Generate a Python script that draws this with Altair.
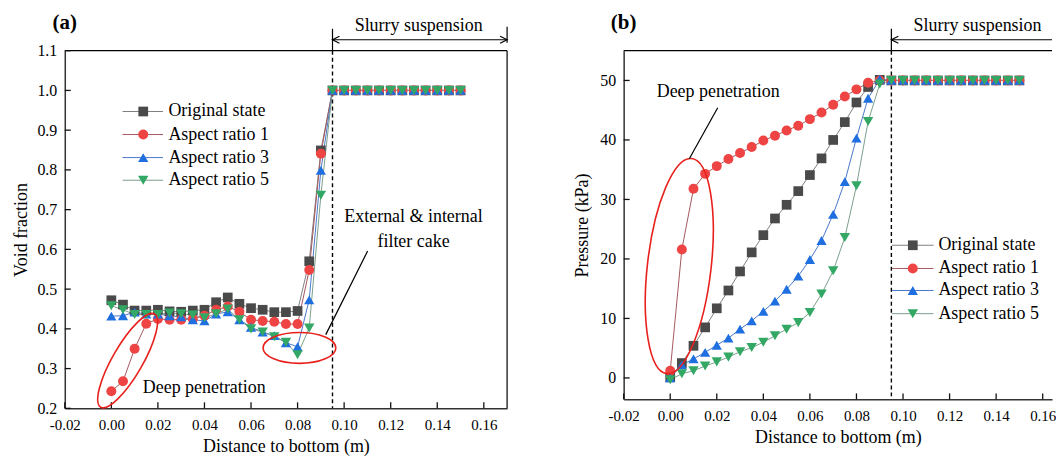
import altair as alt
import pandas as pd

FONT = "Liberation Serif"

SERIES = ["Original state", "Aspect ratio 1", "Aspect ratio 3", "Aspect ratio 5"]
LINE_COLORS = ["#808080", "#a4585e", "#4a78c8", "#7aa08c"]
MARK_COLORS = ["#4a4a4a", "#ee4444", "#1f6fe0", "#33a865"]
SHAPES = ["square", "circle", "triangle-up", "triangle-down"]
SIZES = [95, 110, 140, 140]

DIST = [0.000, 0.005, 0.010, 0.015, 0.020, 0.025, 0.030, 0.035, 0.040, 0.045,
        0.050, 0.055, 0.060, 0.065, 0.070, 0.075, 0.080, 0.085, 0.090, 0.095,
        0.100, 0.105, 0.110, 0.115, 0.120, 0.125, 0.130, 0.135, 0.140, 0.145, 0.150]

# (a) Void fraction
VOID_ORIG = [0.472, 0.461, 0.446, 0.446, 0.448, 0.444, 0.443, 0.446, 0.448, 0.467,
             0.479, 0.463, 0.452, 0.448, 0.442, 0.442, 0.445, 0.570, 0.849, 1.0,
             1.0, 1.0, 1.0, 1.0, 1.0, 1.0, 1.0, 1.0, 1.0, 1.0, 1.0]
VOID_AR1 = [0.243, 0.268, 0.350, 0.413, 0.425, 0.423, 0.423, 0.425, 0.433, 0.448,
            0.456, 0.443, 0.423, 0.420, 0.418, 0.412, 0.412, 0.548, 0.841, 1.0,
            1.0, 1.0, 1.0, 1.0, 1.0, 1.0, 1.0, 1.0, 1.0, 1.0, 1.0]
VOID_AR3 = [0.432, 0.433, 0.442, 0.437, 0.437, 0.433, 0.430, 0.423, 0.420, 0.437,
            0.443, 0.423, 0.404, 0.392, 0.383, 0.365, 0.355, 0.473, 0.799, 1.0,
            1.0, 1.0, 1.0, 1.0, 1.0, 1.0, 1.0, 1.0, 1.0, 1.0, 1.0]
VOID_AR5 = [0.458, 0.448, 0.436, 0.436, 0.436, 0.440, 0.438, 0.435, 0.428, 0.438,
            0.450, 0.423, 0.400, 0.392, 0.380, 0.366, 0.335, 0.402, 0.736, 1.0,
            1.0, 1.0, 1.0, 1.0, 1.0, 1.0, 1.0, 1.0, 1.0, 1.0, 1.0]

# (b) Pressure (kPa)
P_ORIG = [0.1, 2.5, 5.4, 8.5, 11.7, 14.7, 17.9, 21.1, 24.0, 26.8,
          29.1, 31.4, 34.1, 36.9, 40.0, 43.0, 46.3, 48.9, 50.1, 50.0,
          50.0, 50.0, 50.0, 50.0, 50.0, 50.0, 50.0, 50.0, 50.0, 50.0, 50.0]
P_AR1 = [1.2, 21.6, 31.8, 34.3, 35.6, 36.8, 37.8, 38.8, 39.9, 40.7,
         41.6, 42.4, 43.5, 44.6, 45.9, 47.3, 48.5, 49.6, 50.0, 50.0,
         50.0, 50.0, 50.0, 50.0, 50.0, 50.0, 50.0, 50.0, 50.0, 50.0, 50.0]
P_AR3 = [0.0, 2.2, 3.2, 4.3, 5.5, 6.7, 8.2, 9.6, 11.2, 12.9,
         14.9, 17.1, 19.9, 23.1, 27.5, 33.0, 40.3, 47.0, 50.2, 50.0,
         50.0, 50.0, 50.0, 50.0, 50.0, 50.0, 50.0, 50.0, 50.0, 50.0, 50.0]
P_AR5 = [-0.3, 0.7, 1.2, 2.0, 2.7, 3.5, 4.4, 5.1, 6.0, 7.1,
         8.2, 9.3, 11.0, 14.1, 18.0, 23.6, 32.3, 43.1, 49.4, 50.0,
         50.0, 50.0, 50.0, 50.0, 50.0, 50.0, 50.0, 50.0, 50.0, 50.0, 50.0]

X_TICKS = [-0.02, 0.00, 0.02, 0.04, 0.06, 0.08, 0.10, 0.12, 0.14, 0.16]
VOID_TICKS = [0.2, 0.3, 0.4, 0.5, 0.6, 0.7, 0.8, 0.9, 1.0, 1.1]
P_TICKS = [0, 10, 20, 30, 40, 50]

X_TITLE = "Distance to bottom (m)"
Y_TITLE_A = "Void fraction"
Y_TITLE_B = "Pressure (kPa)"
SLURRY = "Slurry suspension"
DEEP = "Deep penetration"
CAKE_1 = "External & internal"
CAKE_2 = "filter cake"

# legend anchor rows (data units of each panel)
LEG_A = {"x0": 0.0048, "x1": 0.0222, "xm": 0.0137, "xt": 0.0245, "y": [0.947, 0.889, 0.831, 0.774]}
LEG_B = {"x0": 0.0952, "x1": 0.1131, "xm": 0.1042, "xt": 0.1152, "y": [22.3, 18.4, 14.7, 10.8]}

ONE = pd.DataFrame({"k": [0]})

stroke_scale = alt.Scale(domain=SERIES, range=LINE_COLORS)
color_scale = alt.Scale(domain=SERIES, range=MARK_COLORS)
shape_scale = alt.Scale(domain=SERIES, range=SHAPES)
size_scale = alt.Scale(domain=SERIES, range=SIZES)

XLABEL = "datum.value < 0 ? '-' + format(-datum.value, '.2f') : format(datum.value, '.2f')"
TICK_PX = 6


def long_df(values):
    rows = []
    for s, vals in zip(SERIES, values):
        for x, v in zip(DIST, vals):
            rows.append({"series": s, "x": x, "y": v})
    return pd.DataFrame(rows)


def ellipse_path(ratio):
    k = 0.5523
    b = ratio
    return (f"M1,0 C1,{k*b:.4f} {k:.4f},{b:.4f} 0,{b:.4f} "
            f"C{-k:.4f},{b:.4f} -1,{k*b:.4f} -1,0 "
            f"C-1,{-k*b:.4f} {-k:.4f},{-b:.4f} 0,{-b:.4f} "
            f"C{k:.4f},{-b:.4f} 1,{-k*b:.4f} 1,0 Z")


ARROW_L = "M1,-0.5 L0,0 L1,0.5"
ARROW_R = "M-1,-0.5 L0,0 L-1,0.5"


def panel(values, xdom, ydom, W, H, yticks, ytc, yfmt, ytitle, ytp, leg, letter,
          ellipses, texts, connectors, right_frame, arrow_right_end):
    xs = alt.Scale(domain=xdom, nice=False, zero=False)
    ys = alt.Scale(domain=ydom, nice=False, zero=False)
    xaxis = alt.Axis(tickCount=10, title=X_TITLE, labelExpr=XLABEL, labelOverlap=False)
    yaxis = alt.Axis(tickCount=ytc, title=ytitle, format=yfmt, titlePadding=ytp,
                     labelOverlap=False, labelFontSize=16)
    dx = (xdom[1] - xdom[0]) * TICK_PX / W
    dy = (ydom[1] - ydom[0]) * TICK_PX / H

    def X(f):
        return alt.X(f, type="quantitative", scale=xs, axis=xaxis)

    def Y(f):
        return alt.Y(f, type="quantitative", scale=ys, axis=yaxis)

    df = long_df(values)
    layers = []
    layers.append(alt.Chart(df).mark_line(strokeWidth=1).encode(
        x=X("x"), y=Y("y"),
        stroke=alt.Stroke("series:N", scale=stroke_scale, legend=None),
        detail="series:N"))
    # frame
    layers.append(alt.Chart(ONE).mark_rule(color="black", strokeWidth=1.2).encode(
        x=alt.value(0), x2=alt.value(W), y=alt.value(0)))
    if right_frame:
        layers.append(alt.Chart(ONE).mark_rule(color="black", strokeWidth=1.2).encode(
            x=alt.value(W), y=alt.value(0), y2=alt.value(H)))
    # dashed boundary
    layers.append(alt.Chart(ONE).mark_rule(color="black", strokeWidth=1.4, strokeDash=[4, 3]).encode(
        x=alt.datum(0.095), y=alt.value(0), y2=alt.value(H)))
    layers.append(alt.Chart(ONE).mark_rule(color="black", strokeWidth=1.2).encode(
        x=alt.datum(0.095), y=alt.value(-22), y2=alt.value(0)))
    # slurry arrow
    ay = -11
    if arrow_right_end:
        layers.append(alt.Chart(ONE).mark_rule(color="black", strokeWidth=1.2).encode(
            x=alt.datum(0.095), x2=alt.datum(xdom[1]), y=alt.value(ay)))
        layers.append(alt.Chart(ONE).mark_rule(color="black", strokeWidth=1.2).encode(
            x=alt.datum(xdom[1]), y=alt.value(-24), y2=alt.value(-8)))
        layers.append(alt.Chart(ONE).mark_point(shape=ARROW_R, size=196, filled=False, stroke="black",
                                                strokeWidth=1.2, opacity=1).encode(
            x=alt.datum(xdom[1]), y=alt.value(ay)))
    else:
        layers.append(alt.Chart(ONE).mark_rule(color="black", strokeWidth=1.2).encode(
            x=alt.datum(0.095), x2=alt.value(W), y=alt.value(ay)))
    layers.append(alt.Chart(ONE).mark_point(shape=ARROW_L, size=196, filled=False, stroke="black",
                                            strokeWidth=1.2, opacity=1).encode(
        x=alt.datum(0.095), y=alt.value(ay)))
    layers.append(alt.Chart(ONE).mark_text(text=SLURRY, font=FONT, fontSize=18, color="black",
                                           baseline="middle").encode(
        x=alt.datum(0.132), y=alt.value(-25)))
    layers.append(alt.Chart(ONE).mark_text(text=letter, font=FONT, fontSize=21, fontWeight="bold",
                                           color="black", baseline="middle").encode(
        x=alt.value(0), y=alt.value(-28)))
    # inward ticks (drawn in data space, TICK_PX long)
    layers.append(alt.Chart(pd.DataFrame({"xt": X_TICKS})).mark_rule(
        color="#111111", strokeWidth=1.3).encode(
        x=X("xt"), y=alt.datum(ydom[0]), y2=alt.datum(ydom[0] + dy)))
    layers.append(alt.Chart(pd.DataFrame({"yt": yticks})).mark_rule(
        color="#111111", strokeWidth=1.3).encode(
        y=Y("yt"), x=alt.datum(xdom[0]), x2=alt.datum(xdom[0] + dx)))
    # data points
    layers.append(alt.Chart(df).mark_point(filled=True, opacity=1, strokeWidth=0.5).encode(
        x=X("x"), y=Y("y"),
        color=alt.Color("series:N", scale=color_scale, legend=None),
        shape=alt.Shape("series:N", scale=shape_scale, legend=None),
        size=alt.Size("series:N", scale=size_scale, legend=None)))
    # legend
    ldf = pd.DataFrame({"series": SERIES, "ly": leg["y"]})
    layers.append(alt.Chart(ldf).mark_rule(strokeWidth=1).encode(
        x=alt.datum(leg["x0"]), x2=alt.datum(leg["x1"]), y=Y("ly"),
        stroke=alt.Stroke("series:N", scale=stroke_scale, legend=None)))
    layers.append(alt.Chart(ldf).mark_point(filled=True, opacity=1, strokeWidth=0.5).encode(
        x=alt.datum(leg["xm"]), y=Y("ly"),
        color=alt.Color("series:N", scale=color_scale, legend=None),
        shape=alt.Shape("series:N", scale=shape_scale, legend=None),
        size=alt.Size("series:N", scale=size_scale, legend=None)))
    layers.append(alt.Chart(ldf).mark_text(font=FONT, fontSize=18, color="black", align="left",
                                           baseline="middle").encode(
        x=alt.datum(leg["xt"]), y=Y("ly"), text="series:N"))
    # annotations
    for (cx, cy, semi, ratio, ang) in ellipses:
        layers.append(alt.Chart(ONE).mark_point(shape=ellipse_path(ratio), size=(2 * semi) ** 2,
                                                angle=ang, filled=False, stroke="#e8201c",
                                                strokeWidth=1.6, opacity=1).encode(
            x=alt.datum(cx), y=alt.datum(cy)))
    for (x1, y1, x2, y2) in connectors:
        layers.append(alt.Chart(ONE).mark_rule(color="black", strokeWidth=1.2).encode(
            x=alt.datum(x1), y=alt.datum(y1), x2=alt.datum(x2), y2=alt.datum(y2)))
    for (t, tx, ty) in texts:
        layers.append(alt.Chart(ONE).mark_text(text=t, font=FONT, fontSize=18, color="black",
                                               baseline="middle").encode(
            x=alt.datum(tx), y=alt.datum(ty)))
    return alt.layer(*layers).properties(width=W, height=H)


left = panel(
    [VOID_ORIG, VOID_AR1, VOID_AR3, VOID_AR5], [-0.02, 0.17], [0.2, 1.1], 444, 359,
    VOID_TICKS, 10, ".1f", Y_TITLE_A, 6, LEG_A, "(a)",
    ellipses=[(0.0070, 0.320, 54, 0.28, 120), (0.0808, 0.352, 36.5, 0.425, 0)],
    texts=[(DEEP, 0.0399, 0.250), (CAKE_1, 0.1298, 0.681), (CAKE_2, 0.1298, 0.619)],
    connectors=[(0.0921, 0.3855, 0.1101, 0.596)],
    right_frame=True, arrow_right_end=True)

right = panel(
    [P_ORIG, P_AR1, P_AR3, P_AR5], [-0.02, 0.164], [-3.6, 55], 430, 350,
    P_TICKS, 6, "d", Y_TITLE_B, 8, LEG_B, "(b)",
    ellipses=[(0.0039, 18.8, 108.7, 0.294, 96.6)],
    texts=[(DEEP, 0.0206, 48.0)],
    connectors=[(0.0204, 45.4, 0.0082, 36.85)],
    right_frame=False, arrow_right_end=False)

chart = alt.hconcat(left, right, spacing=64).properties(
    padding={"left": 5, "top": 3, "right": 0, "bottom": 0}
).configure_axis(
    labelFont=FONT, labelFontSize=15, labelColor="black",
    titleFont=FONT, titleFontSize=18, titleFontWeight="normal", titleColor="black",
    domainColor="#333333", domainWidth=1.5, ticks=False, tickSize=0, grid=False,
    labelPadding=8, labelFlush=False, labelOverlap=False
).configure_axisX(
    labelPadding=9, titlePadding=5
).configure_view(strokeWidth=0)

chart.save("out.html", embed_options={"renderer": "svg", "actions": False})
